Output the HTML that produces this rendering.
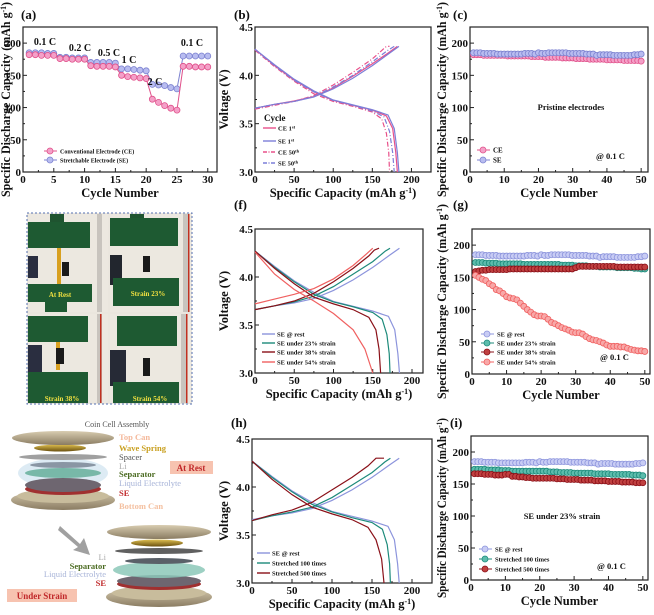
<!DOCTYPE html>
<html><head><meta charset="utf-8">
<style>
html,body{margin:0;padding:0;background:#fff;}
svg{display:block;font-family:"Liberation Serif",serif;font-weight:bold;}
</style></head>
<body>
<svg id="fig" width="654" height="615" viewBox="0 0 654 615">
<defs>
<linearGradient id="canG" x1="0" y1="0" x2="0" y2="1"><stop offset="0" stop-color="#d8ccb0"/><stop offset="1" stop-color="#8a7c62"/></linearGradient>
<linearGradient id="springG" x1="0" y1="0" x2="0" y2="1"><stop offset="0" stop-color="#e0c050"/><stop offset="1" stop-color="#6a5010"/></linearGradient>
</defs>
<g id="photos">
 <rect x="27" y="213" width="165" height="191" fill="#eae6de" stroke="#5670b0" stroke-dasharray="2,2"/>
 <g>
  <rect x="28" y="214" width="80" height="98" fill="#ece8e0"/>
  <rect x="50" y="214" width="14" height="10" fill="#1f5430"/>
  <rect x="28" y="222" width="62" height="26" fill="#1e5a32"/>
  <rect x="57" y="248" width="4" height="36" fill="#d8a020"/>
  <rect x="62" y="262" width="7" height="14" fill="#1a1a1a"/>
  <rect x="28" y="256" width="10" height="22" fill="#2a2e40"/>
  <rect x="28" y="284" width="64" height="18" fill="#1e5a32"/>
  <rect x="45" y="302" width="22" height="10" fill="#1e5a32"/>
  <rect x="97" y="214" width="5" height="98" fill="#c8c4be"/>
  <text x="60" y="297" font-size="7" fill="#f0e040" text-anchor="middle">At Rest</text>
 </g>
 <g>
  <rect x="110" y="214" width="81" height="98" fill="#ece8e0"/>
  <rect x="130" y="214" width="14" height="8" fill="#1f5430"/>
  <rect x="110" y="218" width="68" height="28" fill="#1e5a32"/>
  <rect x="110" y="255" width="12" height="30" fill="#22262e"/>
  <rect x="143" y="256" width="7" height="16" fill="#1a1a1a"/>
  <rect x="113" y="278" width="66" height="28" fill="#1e5a32"/>
  <rect x="183" y="214" width="5" height="98" fill="#c8c4be"/>
  <rect x="188" y="214" width="1.5" height="98" fill="#c03020"/>
  <text x="148" y="296" font-size="7" fill="#f0e040" text-anchor="middle">Strain 23%</text>
 </g>
 <g>
  <rect x="28" y="314" width="80" height="89" fill="#ece8e0"/>
  <rect x="28" y="316" width="60" height="26" fill="#1e5a32"/>
  <rect x="56" y="342" width="4" height="28" fill="#d8a020"/>
  <rect x="28" y="345" width="14" height="30" fill="#2a2e40"/>
  <rect x="56" y="348" width="8" height="16" fill="#1a1a1a"/>
  <rect x="28" y="372" width="60" height="31" fill="#1e5a32"/>
  <rect x="97" y="314" width="5" height="89" fill="#c8c4be"/>
  <rect x="100" y="314" width="1.5" height="89" fill="#c03020"/>
  <text x="62" y="401" font-size="7" fill="#f0e040" text-anchor="middle">Strain 38%</text>
 </g>
 <g>
  <rect x="110" y="314" width="81" height="89" fill="#ece8e0"/>
  <rect x="117" y="316" width="60" height="30" fill="#1e5a32"/>
  <rect x="110" y="350" width="16" height="36" fill="#262a36"/>
  <rect x="143" y="358" width="7" height="18" fill="#1a1a1a"/>
  <rect x="113" y="382" width="66" height="21" fill="#1e5a32"/>
  <rect x="181" y="314" width="5" height="89" fill="#c8c4be"/>
  <rect x="186" y="314" width="1.5" height="89" fill="#c03020"/>
  <text x="150" y="401" font-size="7" fill="#f0e040" text-anchor="middle">Strain 54%</text>
 </g>
</g>
<g id="coin">
 <text x="117" y="427" font-size="8" fill="#555" font-weight="normal" text-anchor="middle">Coin Cell Assembly</text>
 <ellipse cx="63" cy="500" rx="52" ry="10" fill="url(#canG)"/>
 <ellipse cx="63" cy="496" rx="46" ry="7" fill="#c8bc9c"/>
 <ellipse cx="63" cy="473" rx="45" ry="15" fill="#cfe2f0" opacity="0.7"/>
 <ellipse cx="63" cy="489" rx="38" ry="6" fill="#a03030"/>
 <ellipse cx="63" cy="485" rx="38" ry="7" fill="#6e6670"/>
 <ellipse cx="63" cy="473" rx="38" ry="5" fill="#78b8a8"/>
 <ellipse cx="63" cy="465" rx="33" ry="3" fill="#8a96a4"/>
 <ellipse cx="63" cy="457" rx="44" ry="3" fill="#a0a0a0"/>
 <ellipse cx="60" cy="448" rx="26" ry="3.5" fill="url(#springG)"/>
 <ellipse cx="63" cy="438" rx="51" ry="7" fill="url(#canG)"/>
 <g font-size="8.5">
  <text x="119" y="440" fill="#f4b89a">Top Can</text>
  <text x="119" y="451" fill="#c9a020">Wave Spring</text>
  <text x="119" y="460" fill="#555" font-weight="normal">Spacer</text>
  <text x="119" y="469" fill="#aaa" font-weight="normal">Li</text>
  <text x="119" y="477" fill="#4a6a20">Separator</text>
  <text x="119" y="486" fill="#a8b4d8" font-weight="normal">Liquid Electrolyte</text>
  <text x="119" y="496" fill="#c0282a">SE</text>
  <text x="119" y="509" fill="#f4c0a0">Bottom Can</text>
 </g>
 <rect x="170" y="461" width="43" height="13" fill="#f7c3b0"/>
 <text x="191" y="471" font-size="9" fill="#c0282a" text-anchor="middle">At Rest</text>
 <path d="M60,526 L80,544 L84,538 L90,555 L73,550 L78,547 L58,530 Z" fill="#a0a0a0"/>
 <ellipse cx="159" cy="597" rx="53" ry="10" fill="url(#canG)"/>
 <ellipse cx="159" cy="593" rx="47" ry="7" fill="#c8bc9c"/>
 <ellipse cx="159" cy="584" rx="42" ry="6" fill="#a03030"/>
 <ellipse cx="159" cy="581" rx="42" ry="6" fill="#6e6670"/>
 <ellipse cx="159" cy="570" rx="46" ry="8" fill="#8cc8b8" opacity="0.85"/>
 <ellipse cx="159" cy="561" rx="34" ry="3" fill="#5a6068"/>
 <ellipse cx="159" cy="551" rx="44" ry="3" fill="#606060"/>
 <ellipse cx="157" cy="543" rx="26" ry="3.5" fill="url(#springG)"/>
 <ellipse cx="159" cy="532" rx="52" ry="7" fill="url(#canG)"/>
 <g font-size="8.5" text-anchor="end">
  <text x="106" y="560" fill="#aaa" font-weight="normal">Li</text>
  <text x="106" y="569" fill="#4a6a20">Separator</text>
  <text x="106" y="577" fill="#a8b4d8" font-weight="normal">Liquid Electrolyte</text>
  <text x="106" y="586" fill="#c0282a">SE</text>
 </g>
 <rect x="7" y="589" width="70" height="13" fill="#f7c3b0"/>
 <text x="42" y="599" font-size="9" fill="#c0282a" text-anchor="middle">Under Strain</text>
</g>
<g id="plots"></g>
</svg>
<script>
// ---------- data ----------
const cyclesA = [1,2,3,4,5,6,7,8,9,10,11,12,13,14,15,16,17,18,19,20,21,22,23,24,25,26,27,28,29,30];
const aCE = [182,182,181,181,181,176,176,175,175,175,165,164,164,164,163,150,148,147,146,145,113,108,103,99,96,164,164,163,163,163];
const aSE = [185,185,185,184,184,178,178,177,177,177,170,170,170,170,169,160,160,159,158,157,136,135,134,131,129,180,180,180,180,180];
const cycles50 = [1,2,3,4,5,6,7,8,9,10,11,12,13,14,15,16,17,18,19,20,21,22,23,24,25,26,27,28,29,30,31,32,33,34,35,36,37,38,39,40,41,42,43,44,45,46,47,48,49,50];
const cCE = [182,182,182,181,181,181,181,181,181,181,180,180,180,180,180,180,180,179,179,179,179,178,178,178,178,178,177,177,177,177,176,176,176,176,175,175,175,175,175,174,174,174,174,174,173,173,173,173,173,172];
const cSE = [185,185,185,184,184,184,184,183,183,183,183,183,183,183,183,184,184,184,183,185,184,184,185,185,185,185,185,185,184,184,184,184,184,183,183,183,181,182,182,182,182,181,181,181,181,181,181,182,182,183];
const gRest = cSE;
const g23 = [173,173,173,172,172,172,172,171,171,171,171,171,171,171,170,170,170,170,170,170,170,170,170,170,170,169,169,169,169,168,168,168,168,167,167,167,166,166,166,166,166,165,165,165,165,165,164,164,163,163];
const g38 = [159,160,161,161,162,162,162,162,162,162,163,163,163,163,163,163,163,163,163,163,163,163,163,163,163,163,163,163,163,165,167,167,167,167,167,167,167,167,167,167,167,166,166,166,166,166,166,166,166,166];
const g54 = [153,150,147,145,140,137,131,129,125,120,118,117,115,110,105,100,96,92,90,90,89,85,80,78,75,72,70,68,65,64,64,62,58,55,53,52,50,48,45,43,43,43,42,42,40,38,37,36,36,35];
const iRest = cSE;
const i100 = [173,173,173,173,172,172,172,172,171,171,171,170,170,170,170,170,170,170,170,170,170,170,169,169,169,168,168,168,168,167,167,167,167,167,167,166,166,166,166,166,165,165,165,165,165,165,164,164,164,163];
const i500 = [166,166,166,165,165,165,164,164,164,165,165,162,162,161,161,160,160,159,159,159,159,159,159,159,158,158,158,157,157,157,157,156,156,156,156,155,155,155,155,154,154,154,154,153,153,153,153,152,152,152];
// voltage profiles: [capacity, voltage]
const bCE1ch = [[0,3.66],[25,3.7],[50,3.735],[75,3.78],[100,3.87],[125,3.99],[150,4.12],[170,4.23],[182,4.3]];
const bCE1dis = [[0,4.27],[25,4.1],[50,3.95],[75,3.83],[100,3.74],[125,3.69],[150,3.64],[168,3.58],[176,3.45],[180,3.2],[182,3.0]];
const bSE1ch = [[0,3.66],[25,3.7],[50,3.73],[75,3.775],[100,3.86],[125,3.97],[150,4.1],[172,4.23],[184,4.3]];
const bSE1dis = [[0,4.27],[25,4.11],[50,3.96],[75,3.84],[100,3.745],[125,3.695],[150,3.645],[170,3.59],[178,3.45],[182,3.2],[184,3.0]];
const bCE50ch = [[0,3.65],[25,3.69],[50,3.73],[75,3.79],[100,3.9],[125,4.03],[150,4.17],[168,4.3],[172,4.3]];
const bCE50dis = [[0,4.26],[25,4.09],[50,3.94],[75,3.81],[100,3.73],[125,3.68],[150,3.62],[162,3.55],[168,3.4],[171,3.2],[172,3.0]];
const bSE50ch = [[0,3.66],[25,3.7],[50,3.73],[75,3.78],[100,3.88],[125,4.0],[150,4.14],[170,4.26],[178,4.3]];
const bSE50dis = [[0,4.27],[25,4.1],[50,3.95],[75,3.83],[100,3.74],[125,3.69],[150,3.63],[165,3.57],[172,3.42],[176,3.2],[178,3.0]];
const fRestCh = bSE1ch, fRestDis = bSE1dis;
const f23ch = [[0,3.66],[25,3.7],[50,3.74],[75,3.8],[100,3.9],[125,4.03],[150,4.16],[166,4.27],[172,4.3]];
const f23dis = [[0,4.27],[25,4.1],[50,3.95],[75,3.82],[100,3.74],[125,3.69],[150,3.63],[162,3.56],[168,3.4],[171,3.2],[172,3.0]];
const f38ch = [[0,3.66],[25,3.7],[50,3.75],[75,3.83],[100,3.95],[125,4.09],[145,4.22],[152,4.28],[158,4.3]];
const f38dis = [[0,4.27],[25,4.09],[50,3.93],[75,3.79],[100,3.72],[125,3.66],[145,3.58],[154,3.45],[158,3.25],[160,3.0]];
const f54ch = [[0,3.72],[25,3.77],[50,3.82],[75,3.88],[100,3.98],[125,4.12],[142,4.24],[150,4.3]];
const f54dis = [[0,4.26],[25,4.03],[50,3.87],[75,3.75],[100,3.62],[125,3.45],[140,3.25],[150,3.0]];
const hRestCh = bSE1ch, hRestDis = bSE1dis;
const h100ch = [[0,3.65],[25,3.7],[50,3.74],[75,3.79],[100,3.89],[125,4.02],[150,4.15],[166,4.26],[173,4.3]];
const h100dis = [[0,4.27],[25,4.1],[50,3.95],[75,3.82],[100,3.74],[125,3.68],[150,3.63],[163,3.56],[169,3.4],[172,3.2],[173,3.0]];
const h500ch = [[0,3.65],[25,3.71],[50,3.76],[75,3.84],[100,3.97],[125,4.1],[145,4.22],[155,4.3],[165,4.3]];
const h500dis = [[0,4.27],[25,4.08],[50,3.92],[75,3.79],[100,3.72],[125,3.66],[145,3.58],[155,3.45],[162,3.25],[165,3.0]];
const capTicks = [0,50,100,150,200];
const voltTicks = [3.0,3.5,4.0,4.5];
const capYTicks = [0,50,100,150,200];
const cycTicksA = [0,5,10,15,20,25,30];
const cycTicks50 = [0,10,20,30,40,50];

const NS = "http://www.w3.org/2000/svg";
const root = document.getElementById('plots');
function mk(tag, attrs, parent){ const e=document.createElementNS(NS,tag); for(const k in attrs) e.setAttribute(k,attrs[k]); (parent||root).appendChild(e); return e; }
function txt(x,y,s,size,anchor,parent,extra){ const t=mk('text',Object.assign({x:x,y:y,'font-size':size,'text-anchor':anchor||'start',fill:'#111'},extra||{}),parent); t.textContent=s; return t; }

function axes(name, box, xd, yd, xticks, yticks, ydec, xtitle, ytitle, ytitleX, ytitleLen){
  const g = mk('g',{});
  
  
  const sx = v => box.x + (v-xd[0])/(xd[1]-xd[0])*box.w;
  const sy = v => box.y + box.h - (v-yd[0])/(yd[1]-yd[0])*box.h;
  mk('rect',{x:box.x,y:box.y,width:box.w,height:box.h,fill:'none',stroke:'#222','stroke-width':1.2},g);
  xticks.forEach((v,i)=>{ const X=sx(v); mk('line',{x1:X,x2:X,y1:box.y+box.h,y2:box.y+box.h-4,stroke:'#222'},g);
    if(i<xticks.length-1){ const m=sx(v+(xticks[1]-xticks[0])/2); mk('line',{x1:m,x2:m,y1:box.y+box.h,y2:box.y+box.h-2,stroke:'#222'},g);}
    const t=txt(X,box.y+box.h+11,String(v),11,'middle',g);
      });
  yticks.forEach((v,i)=>{ const Y=sy(v); mk('line',{x1:box.x,x2:box.x+4,y1:Y,y2:Y,stroke:'#222'},g);
    if(i<yticks.length-1){ const m=sy(v+(yticks[1]-yticks[0])/2); mk('line',{x1:box.x,x2:box.x+2,y1:m,y2:m,stroke:'#222'},g);}
    const t=txt(box.x-2,Y+4,ydec?v.toFixed(1):String(v),11,'end',g);
      });
  const xt = txt(box.x+box.w/2, box.y+box.h+25, '', 12.5, 'middle', g);
  xt.innerHTML = xtitle;
   
  const cy = box.y+box.h/2;
  const yt = txt(0,0,'',12.5,'middle',g,{transform:`translate(${ytitleX},${cy}) rotate(-90)`});
  yt.innerHTML = ytitle;
  if(ytitleLen){ yt.setAttribute('textLength',ytitleLen); yt.setAttribute('lengthAdjust','spacingAndGlyphs'); }
   
  return {sx,sy,g};
}
function markerSeries(ax, name, xs, ys, stroke, fill){
  const g=mk('g',{},ax.g);
  
  
  mk('polyline',{points:xs.map((x,i)=>ax.sx(x)+','+ax.sy(ys[i])).join(' '),fill:'none',stroke:stroke,'stroke-width':1},g);
  xs.forEach((x,i)=>{ const c=mk('circle',{cx:ax.sx(x),cy:ax.sy(ys[i]),r:3,fill:fill,stroke:stroke,'stroke-width':0.8},g);
      });
}
function lineSeries(ax, name, pts, stroke, dash){
  const p=mk('polyline',{points:pts.map(q=>ax.sx(q[0])+','+ax.sy(q[1])).join(' '),fill:'none',stroke:stroke,'stroke-width':1.2,'stroke-dasharray':dash||'none'},ax.g);
  
  
}
function legLine(ax, x, y, color, label, dash, size){
  const g=mk('g',{},ax.g);
  
  
  mk('line',{x1:x,x2:x+13,y1:y,y2:y,stroke:color,'stroke-width':1.4,'stroke-dasharray':dash||'none'},g);
  const t=txt(x+15,y+2.5,'',size||6.5,'start',g); t.innerHTML=label;
}
function legMark(ax, x, y, stroke, fill, label, size){
  const g=mk('g',{},ax.g);
  
  
  mk('line',{x1:x-6,x2:x+7,y1:y,y2:y,stroke:stroke,'stroke-width':1},g);
  mk('circle',{cx:x,cy:y,r:3,fill:fill,stroke:stroke,'stroke-width':0.8},g);
  txt(x+10,y+2.5,label,size||6.5,'start',g);
}
function panelLabel(x,y,s){ const t=txt(x,y,s,13,'start');   }

const YCAP = 'Specific Discharge Capacity (mAh g<tspan baseline-shift="super" font-size="8">-1</tspan>)';
const XCAP = 'Specific Capacity (mAh g<tspan baseline-shift="super" font-size="8">-1</tspan>)';
const pink=['#e0508a','#f4a0c8'], blue=['#7c82d0','#b8bcf0'];
const cRest=['#8c94dc','#c8ccf4'], c23=['#1c8a7a','#5cbcac'], c38=['#8a1018','#c04040'], c54=['#f06060','#f8a8a8'];

// (a)
panelLabel(21,19,'(a)');
let A = axes('chart-a-rate-capability',{x:23,y:27,w:194,h:145},[0,31.5],[0,225],cycTicksA,capYTicks,false,'Cycle Number',YCAP,10,195);
markerSeries(A,'series-se',cyclesA,aSE,blue[0],blue[1]);
markerSeries(A,'series-ce',cyclesA,aCE,pink[0],pink[1]);
[['0.1 C',45,45],['0.2 C',80,51],['0.5 C',109,56],['1 C',129,63],['2 C',155,85],['0.1 C',192,46]].forEach(r=>{const t=txt(r[1],r[2],r[0],10,'middle',A.g);  });
legMark(A,50,151,pink[0],pink[1],'Conventional Electrode (CE)',6);
legMark(A,50,160,blue[0],blue[1],'Stretchable Electrode (SE)',6);

// (b)
panelLabel(234,19,'(b)');
let B = axes('chart-b-voltage-profiles',{x:255,y:27,w:176,h:145},[0,225],[3.0,4.5],capTicks,voltTicks,true,XCAP,'Voltage (V)',228);
lineSeries(B,'ce-1st-charge',bCE1ch,'#e8508a'); lineSeries(B,'ce-1st-discharge',bCE1dis,'#e8508a');
lineSeries(B,'se-1st-charge',bSE1ch,'#7c7ed8'); lineSeries(B,'se-1st-discharge',bSE1dis,'#7c7ed8');
lineSeries(B,'ce-50th-charge',bCE50ch,'#e8508a','5,2,1,2'); lineSeries(B,'ce-50th-discharge',bCE50dis,'#e8508a','5,2,1,2');
lineSeries(B,'se-50th-charge',bSE50ch,'#7c7ed8','5,2,1,2'); lineSeries(B,'se-50th-discharge',bSE50dis,'#7c7ed8','5,2,1,2');
txt(264,121,'Cycle',9,'start',B.g);
legLine(B,263,128,'#e8508a','CE 1<tspan baseline-shift="super" font-size="4.5">st</tspan>');
legLine(B,263,141,'#7c7ed8','SE 1<tspan baseline-shift="super" font-size="4.5">st</tspan>');
legLine(B,263,152,'#e8508a','CE 50<tspan baseline-shift="super" font-size="4.5">th</tspan>','4,1.5,1,1.5');
legLine(B,263,163,'#7c7ed8','SE 50<tspan baseline-shift="super" font-size="4.5">th</tspan>','4,1.5,1,1.5');

// (c)
panelLabel(453,19,'(c)');
let C = axes('chart-c-pristine-cycling',{x:470,y:27,w:178,h:145},[0,52],[0,225],cycTicks50,capYTicks,false,'Cycle Number',YCAP.replace('Discharge','Discharge'),446,195);
markerSeries(C,'series-ce',cycles50,cCE,pink[0],pink[1]);
markerSeries(C,'series-se',cycles50,cSE,blue[0],blue[1]);
txt(571,110,'Pristine electrodes',8.5,'middle',C.g);
legMark(C,483,150,pink[0],pink[1],'CE',7);
legMark(C,483,160,blue[0],blue[1],'SE',7);
txt(596,159,'@ 0.1 C',8.5,'start',C.g);

// (f)
panelLabel(234,209,'(f)');
let F = axes('chart-f-strain-voltage',{x:255,y:229,w:168,h:144},[0,214],[3.0,4.5],capTicks,voltTicks,true,XCAP,'Voltage (V)',228);
lineSeries(F,'rest-charge',fRestCh,cRest[0]); lineSeries(F,'rest-discharge',fRestDis,cRest[0]);
lineSeries(F,'strain23-charge',f23ch,c23[0]); lineSeries(F,'strain23-discharge',f23dis,c23[0]);
lineSeries(F,'strain38-charge',f38ch,c38[0]); lineSeries(F,'strain38-discharge',f38dis,c38[0]);
lineSeries(F,'strain54-charge',f54ch,c54[0]); lineSeries(F,'strain54-discharge',f54dis,c54[0]);
legLine(F,262,334,cRest[0],'SE @ rest');
legLine(F,262,343,c23[0],'SE under 23% strain');
legLine(F,262,352,c38[0],'SE under 38% strain');
legLine(F,262,362,c54[0],'SE under 54% strain');

// (g)
panelLabel(453,209,'(g)');
let G = axes('chart-g-strain-cycling',{x:472,y:229,w:178,h:145},[0,51.5],[0,225],cycTicks50,capYTicks,false,'Cycle Number',YCAP,446,195);
markerSeries(G,'series-rest',cycles50,gRest,cRest[0],cRest[1]);
markerSeries(G,'series-23',cycles50,g23,c23[0],c23[1]);
markerSeries(G,'series-38',cycles50,g38,c38[0],c38[1]);
markerSeries(G,'series-54',cycles50,g54,c54[0],c54[1]);
legMark(G,487,334,cRest[0],cRest[1],'SE @ rest');
legMark(G,487,343,c23[0],c23[1],'SE under 23% strain');
legMark(G,487,352,c38[0],c38[1],'SE under 38% strain');
legMark(G,487,362,c54[0],c54[1],'SE under 54% strain');
txt(600,360,'@ 0.1 C',8.5,'start',G.g);

// (h)
panelLabel(231,427,'(h)');
let H = axes('chart-h-stretch-voltage',{x:252,y:439,w:180,h:144},[0,225],[3.0,4.5],capTicks,voltTicks,true,XCAP,'Voltage (V)',228);
lineSeries(H,'rest-charge',hRestCh,cRest[0]); lineSeries(H,'rest-discharge',hRestDis,cRest[0]);
lineSeries(H,'stretched100-charge',h100ch,c23[0]); lineSeries(H,'stretched100-discharge',h100dis,c23[0]);
lineSeries(H,'stretched500-charge',h500ch,c38[0]); lineSeries(H,'stretched500-discharge',h500dis,c38[0]);
legLine(H,257,553,cRest[0],'SE @ rest');
legLine(H,257,563,c23[0],'Stretched 100 times');
legLine(H,257,573,c38[0],'Stretched 500 times');

// (i)
panelLabel(450,427,'(i)');
let I = axes('chart-i-stretch-cycling',{x:471,y:436,w:177,h:144},[0,51.5],[0,225],cycTicks50,capYTicks,false,'Cycle Number',YCAP,446,180);
markerSeries(I,'series-rest',cycles50,iRest,cRest[0],cRest[1]);
markerSeries(I,'series-100',cycles50,i100,c23[0],c23[1]);
markerSeries(I,'series-500',cycles50,i500,c38[0],c38[1]);
txt(562,519,'SE under 23% strain',8.5,'middle',I.g);
legMark(I,485,549,cRest[0],cRest[1],'SE @ rest');
legMark(I,485,559,c23[0],c23[1],'Stretched 100 times');
legMark(I,485,569,c38[0],c38[1],'Stretched 500 times');
txt(597,569,'@ 0.1 C',8.5,'start',I.g);
</script>
</body></html>
